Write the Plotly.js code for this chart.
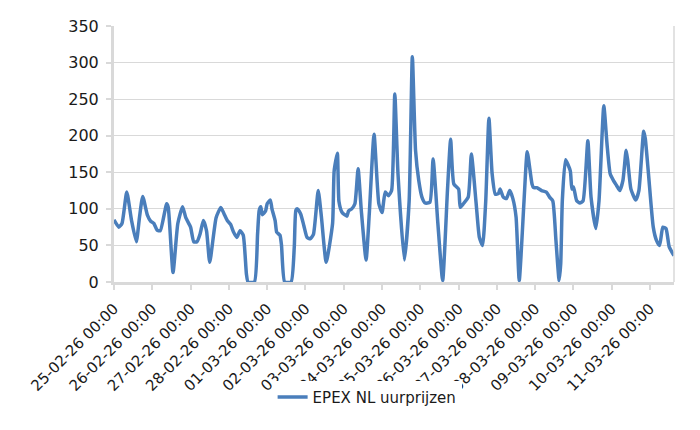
<!DOCTYPE html>
<html>
<head>
<meta charset="utf-8">
<script src="https://cdn.plot.ly/plotly-3.0.1.min.js"></script>
<style>html,body{margin:0;padding:0;background:#fff;}#chart{width:700px;height:430px;}</style>
</head>
<body>
<div id="chart"></div>
<script>
const seriesName = 'EPEX NL uurprijzen';
const times = [
'2026-02-25 00:00','2026-02-25 03:00','2026-02-25 05:00','2026-02-25 08:00','2026-02-25 11:00','2026-02-25 14:00','2026-02-25 16:00','2026-02-25 18:00','2026-02-25 21:00','2026-02-25 23:00',
'2026-02-26 01:00','2026-02-26 03:00','2026-02-26 05:00','2026-02-26 09:00','2026-02-26 10:00','2026-02-26 13:00','2026-02-26 16:00','2026-02-26 19:00','2026-02-26 21:00',
'2026-02-27 00:00','2026-02-27 02:00','2026-02-27 04:00','2026-02-27 06:00','2026-02-27 08:00','2026-02-27 10:00','2026-02-27 12:00','2026-02-27 16:00','2026-02-27 19:00','2026-02-27 21:00','2026-02-27 23:00',
'2026-02-28 01:00','2026-02-28 03:00','2026-02-28 05:00','2026-02-28 07:00','2026-02-28 09:00','2026-02-28 11:00','2026-02-28 12:00','2026-02-28 16:00','2026-02-28 18:00','2026-02-28 19:00','2026-02-28 20:00','2026-02-28 21:00','2026-02-28 23:00',
'2026-03-01 00:00','2026-03-01 02:00','2026-03-01 03:00','2026-03-01 05:00','2026-03-01 06:00','2026-03-01 08:00','2026-03-01 09:00','2026-03-01 11:00','2026-03-01 15:00','2026-03-01 17:00','2026-03-01 18:00','2026-03-01 19:00','2026-03-01 21:00','2026-03-01 23:00',
'2026-03-02 01:00','2026-03-02 03:00','2026-03-02 05:00','2026-03-02 08:00','2026-03-02 10:00','2026-03-02 13:00','2026-03-02 17:00','2026-03-02 18:00','2026-03-02 20:00','2026-03-02 21:00','2026-03-02 23:00',
'2026-03-03 02:00','2026-03-03 03:00','2026-03-03 05:00','2026-03-03 07:00','2026-03-03 09:00','2026-03-03 11:00','2026-03-03 14:00','2026-03-03 16:00','2026-03-03 19:00','2026-03-03 22:00',
'2026-03-04 00:00','2026-03-04 02:00','2026-03-04 04:00','2026-03-04 06:00','2026-03-04 08:00','2026-03-04 10:00','2026-03-04 14:00','2026-03-04 17:00','2026-03-04 19:00','2026-03-04 21:00','2026-03-04 23:00',
'2026-03-05 01:00','2026-03-05 03:00','2026-03-05 06:00','2026-03-05 08:00','2026-03-05 11:00','2026-03-05 14:00','2026-03-05 17:00','2026-03-05 19:00','2026-03-05 21:00',
'2026-03-06 00:00','2026-03-06 01:00','2026-03-06 03:00','2026-03-06 06:00','2026-03-06 08:00','2026-03-06 11:00','2026-03-06 13:00','2026-03-06 15:00','2026-03-06 17:00','2026-03-06 19:00','2026-03-06 21:00','2026-03-06 23:00',
'2026-03-07 01:00','2026-03-07 02:00','2026-03-07 04:00','2026-03-07 06:00','2026-03-07 08:00','2026-03-07 10:00','2026-03-07 12:00','2026-03-07 14:00','2026-03-07 17:00','2026-03-07 19:00','2026-03-07 22:00','2026-03-07 23:00',
'2026-03-08 01:00','2026-03-08 04:00','2026-03-08 07:00','2026-03-08 09:00','2026-03-08 11:00','2026-03-08 13:00','2026-03-08 15:00','2026-03-08 16:00','2026-03-08 17:00','2026-03-08 19:00','2026-03-08 22:00','2026-03-08 23:00',
'2026-03-09 00:00','2026-03-09 02:00','2026-03-09 04:00','2026-03-09 06:00','2026-03-09 09:00','2026-03-09 11:00','2026-03-09 14:00','2026-03-09 16:00','2026-03-09 19:00','2026-03-09 21:00','2026-03-09 23:00',
'2026-03-10 01:00','2026-03-10 03:00','2026-03-10 05:00','2026-03-10 07:00','2026-03-10 09:00','2026-03-10 10:00','2026-03-10 12:00','2026-03-10 15:00','2026-03-10 17:00','2026-03-10 20:00','2026-03-10 21:00','2026-03-10 23:00',
'2026-03-11 02:00','2026-03-11 04:00','2026-03-11 06:00','2026-03-11 08:00','2026-03-11 10:00','2026-03-11 12:00','2026-03-11 15:00'
];
const prices = [
85,75,80,123,84,55,89,117,91,83,
80,71,70,107,102,13,80,103,88,
75,55,55,66,84,70,27,88,102,93,84,
79,68,61,70,64,11,0,0,66,98,103,92,97,
107,112,100,84,68,64,50,0,0,48,98,100,93,77,
61,59,65,125,89,27,80,152,176,110,95,
90,97,100,107,155,98,30,93,202,107,
95,123,118,125,257,148,30,111,308,180,139,
116,108,109,168,80,2,125,195,134,
127,102,107,116,175,107,61,50,111,224,148,120,
121,127,116,114,125,114,89,2,111,178,134,129,
129,125,123,116,111,57,2,25,111,167,152,127,
130,111,108,111,193,116,73,111,241,189,148,
139,132,125,139,180,166,127,112,125,206,196,148,
75,57,50,75,73,48,36
];
const yTicks = [0,50,100,150,200,250,300,350];
const xStart = '2026-02-25 00:00';
const xEnd = '2026-03-11 15:00';

const font = 'DejaVu Sans, Liberation Sans, Arial, sans-serif';
const grey = '#d9d9d9';

Plotly.newPlot('chart', [{
  type: 'scatter', mode: 'lines', name: seriesName,
  x: times, y: prices,
  line: {color: '#4A7EBB', width: 3.5, shape: 'spline', smoothing: 0.5}
}], {
  width: 700, height: 430,
  margin: {l: 114, r: 26, t: 26, b: 148},
  paper_bgcolor: '#fff', plot_bgcolor: '#fff',
  font: {family: font, size: 15, color: '#1a1a1a'},
  showlegend: true,
  legend: {orientation: 'h', x: 0.452, xanchor: 'center', y: -0.45, yanchor: 'middle', font: {size: 15, color: '#1a1a1a'}},
  xaxis: {
    type: 'date', range: [xStart, xEnd],
    tick0: xStart, dtick: 86400000, tickformat: '%d-%m-%y %H:%M', tickangle: -45,
    ticks: 'outside', ticklen: 5, tickwidth: 2, tickcolor: grey,
    showline: true, linecolor: grey, linewidth: 3,
    showgrid: false, zeroline: false,
    tickfont: {size: 15, color: '#1a1a1a'}, ticklabelstandoff: 4
  },
  yaxis: {
    range: [0, 350], tickvals: yTicks,
    ticks: 'outside', ticklen: 5, tickwidth: 2, tickcolor: grey,
    showline: true, linecolor: grey, linewidth: 3,
    showgrid: true, gridcolor: grey, gridwidth: 1, zeroline: false,
    tickfont: {size: 16, color: '#1a1a1a'}, ticklabelstandoff: 4
  },
  shapes: [{type: 'line', xref: 'paper', yref: 'paper', x0: 1, x1: 1, y0: 0, y1: 1, line: {color: grey, width: 1.5}}]
}, {staticPlot: true});
</script>
</body>
</html>
